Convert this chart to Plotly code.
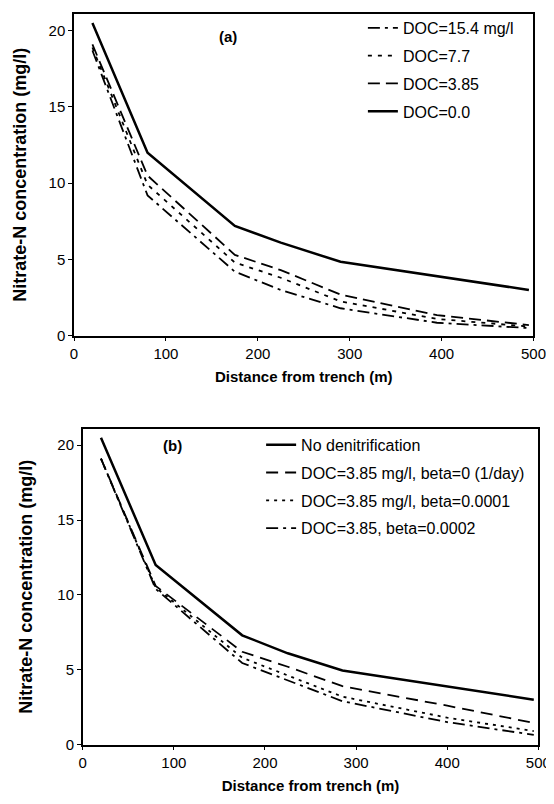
import plotly.graph_objects as go

# distances from trench (m) where the curves were read
dist_a = [20, 80, 175, 225, 290, 395, 495]
dist_b = [20, 80, 175, 225, 285, 400, 495]

# panel (a): nitrate-N (mg/l) for several DOC levels
doc_15_4 = [18.7, 9.2, 4.2, 3.0, 1.8, 0.85, 0.5]
doc_7_7 = [18.9, 9.9, 4.8, 3.8, 2.25, 1.1, 0.6]
doc_3_85 = [19.1, 10.5, 5.3, 4.3, 2.7, 1.35, 0.7]
doc_0 = [20.5, 12.0, 7.2, 6.1, 4.85, 3.9, 3.0]

# panel (b): DOC=3.85 with different beta
no_denit = [20.5, 12.0, 7.3, 6.1, 4.95, 3.9, 3.0]
beta_0 = [19.1, 10.6, 6.2, 5.2, 3.9, 2.6, 1.45]
beta_1e4 = [19.1, 10.5, 5.8, 4.6, 3.2, 1.8, 0.9]
beta_2e4 = [19.1, 10.4, 5.45, 4.3, 2.9, 1.5, 0.65]

FONT = "Liberation Sans, Arial, sans-serif"

fig = go.Figure()

series_a = [
    ("DOC=15.4 mg/l", doc_15_4, "12px,5px,3px,5px", 1.8),
    ("DOC=7.7", doc_7_7, "4px,6px", 1.8),
    ("DOC=3.85", doc_3_85, "12px,6px", 1.8),
    ("DOC=0.0", doc_0, "solid", 2.5),
]
for i, (name, ys, dash, w) in enumerate(series_a):
    fig.add_trace(
        go.Scatter(
            x=dist_a, y=ys, mode="lines", name=name,
            line=dict(color="black", width=w, dash=dash),
            xaxis="x", yaxis="y", legend="legend", legendgroup=f"a{i}",
        )
    )

series_b = [
    ("No denitrification", no_denit, "solid", 2.5),
    ("DOC=3.85 mg/l, beta=0 (1/day)", beta_0, "12px,7px", 1.8),
    ("DOC=3.85 mg/l, beta=0.0001", beta_1e4, "3px,5px", 1.8),
    ("DOC=3.85, beta=0.0002", beta_2e4, "12px,5px,3px,5px", 1.8),
]
for i, (name, ys, dash, w) in enumerate(series_b):
    fig.add_trace(
        go.Scatter(
            x=dist_b, y=ys, mode="lines", name=name,
            line=dict(color="black", width=w, dash=dash),
            xaxis="x2", yaxis="y2", legend="legend2", legendgroup=f"b{i}",
        )
    )

W, H = 554, 804

axis_common = dict(
    showline=True, linecolor="black", linewidth=1.5, mirror=True,
    ticks="outside", ticklen=4, tickcolor="black", showgrid=False,
    zeroline=False, tickfont=dict(family=FONT, size=15, color="black"),
)
xtitle = dict(text="<b>Distance from trench (m)</b>",
              font=dict(family=FONT, size=15, color="black"), standoff=10)


def ytitle(standoff):
    return dict(text="<b>Nitrate-N concentration (mg/l)</b>",
                font=dict(family=FONT, size=18, color="black"),
                standoff=standoff)


legend_common = dict(
    font=dict(family=FONT, size=16, color="black"), bgcolor="rgba(0,0,0,0)",
    tracegroupgap=4, itemwidth=30, xanchor="left", yanchor="top",
)

fig.update_layout(
    width=W, height=H,
    margin=dict(l=0, r=0, t=0, b=0),
    paper_bgcolor="white", plot_bgcolor="white",
    showlegend=True,
    xaxis=dict(domain=[64 / W, 538 / W], range=[0, 500], dtick=100,
               anchor="y", title=xtitle, **axis_common),
    yaxis=dict(domain=[1 - 331 / H, 1 - 6 / H], range=[0, 21.1], dtick=5,
               anchor="x", title=ytitle(17), **axis_common),
    xaxis2=dict(domain=[73 / W, 543 / W], range=[0, 500], dtick=100,
                anchor="y2", title=xtitle, **axis_common),
    yaxis2=dict(domain=[1 - 744 / H, 1 - 425 / H], range=[0, 21.1], dtick=5,
                anchor="x2", title=ytitle(20), **axis_common),
    legend=dict(x=362 / W, y=1 - 3 / H, **legend_common),
    legend2=dict(x=257 / W, y=1 - 424 / H, **legend_common),
    annotations=[
        dict(text="<b>(a)</b>", x=168, y=19.6, xref="x", yref="y",
             showarrow=False, font=dict(family=FONT, size=15, color="black")),
        dict(text="<b>(b)</b>", x=98, y=20.0, xref="x2", yref="y2",
             showarrow=False, font=dict(family=FONT, size=15, color="black")),
    ],
)

fig.write_html("out.html")
